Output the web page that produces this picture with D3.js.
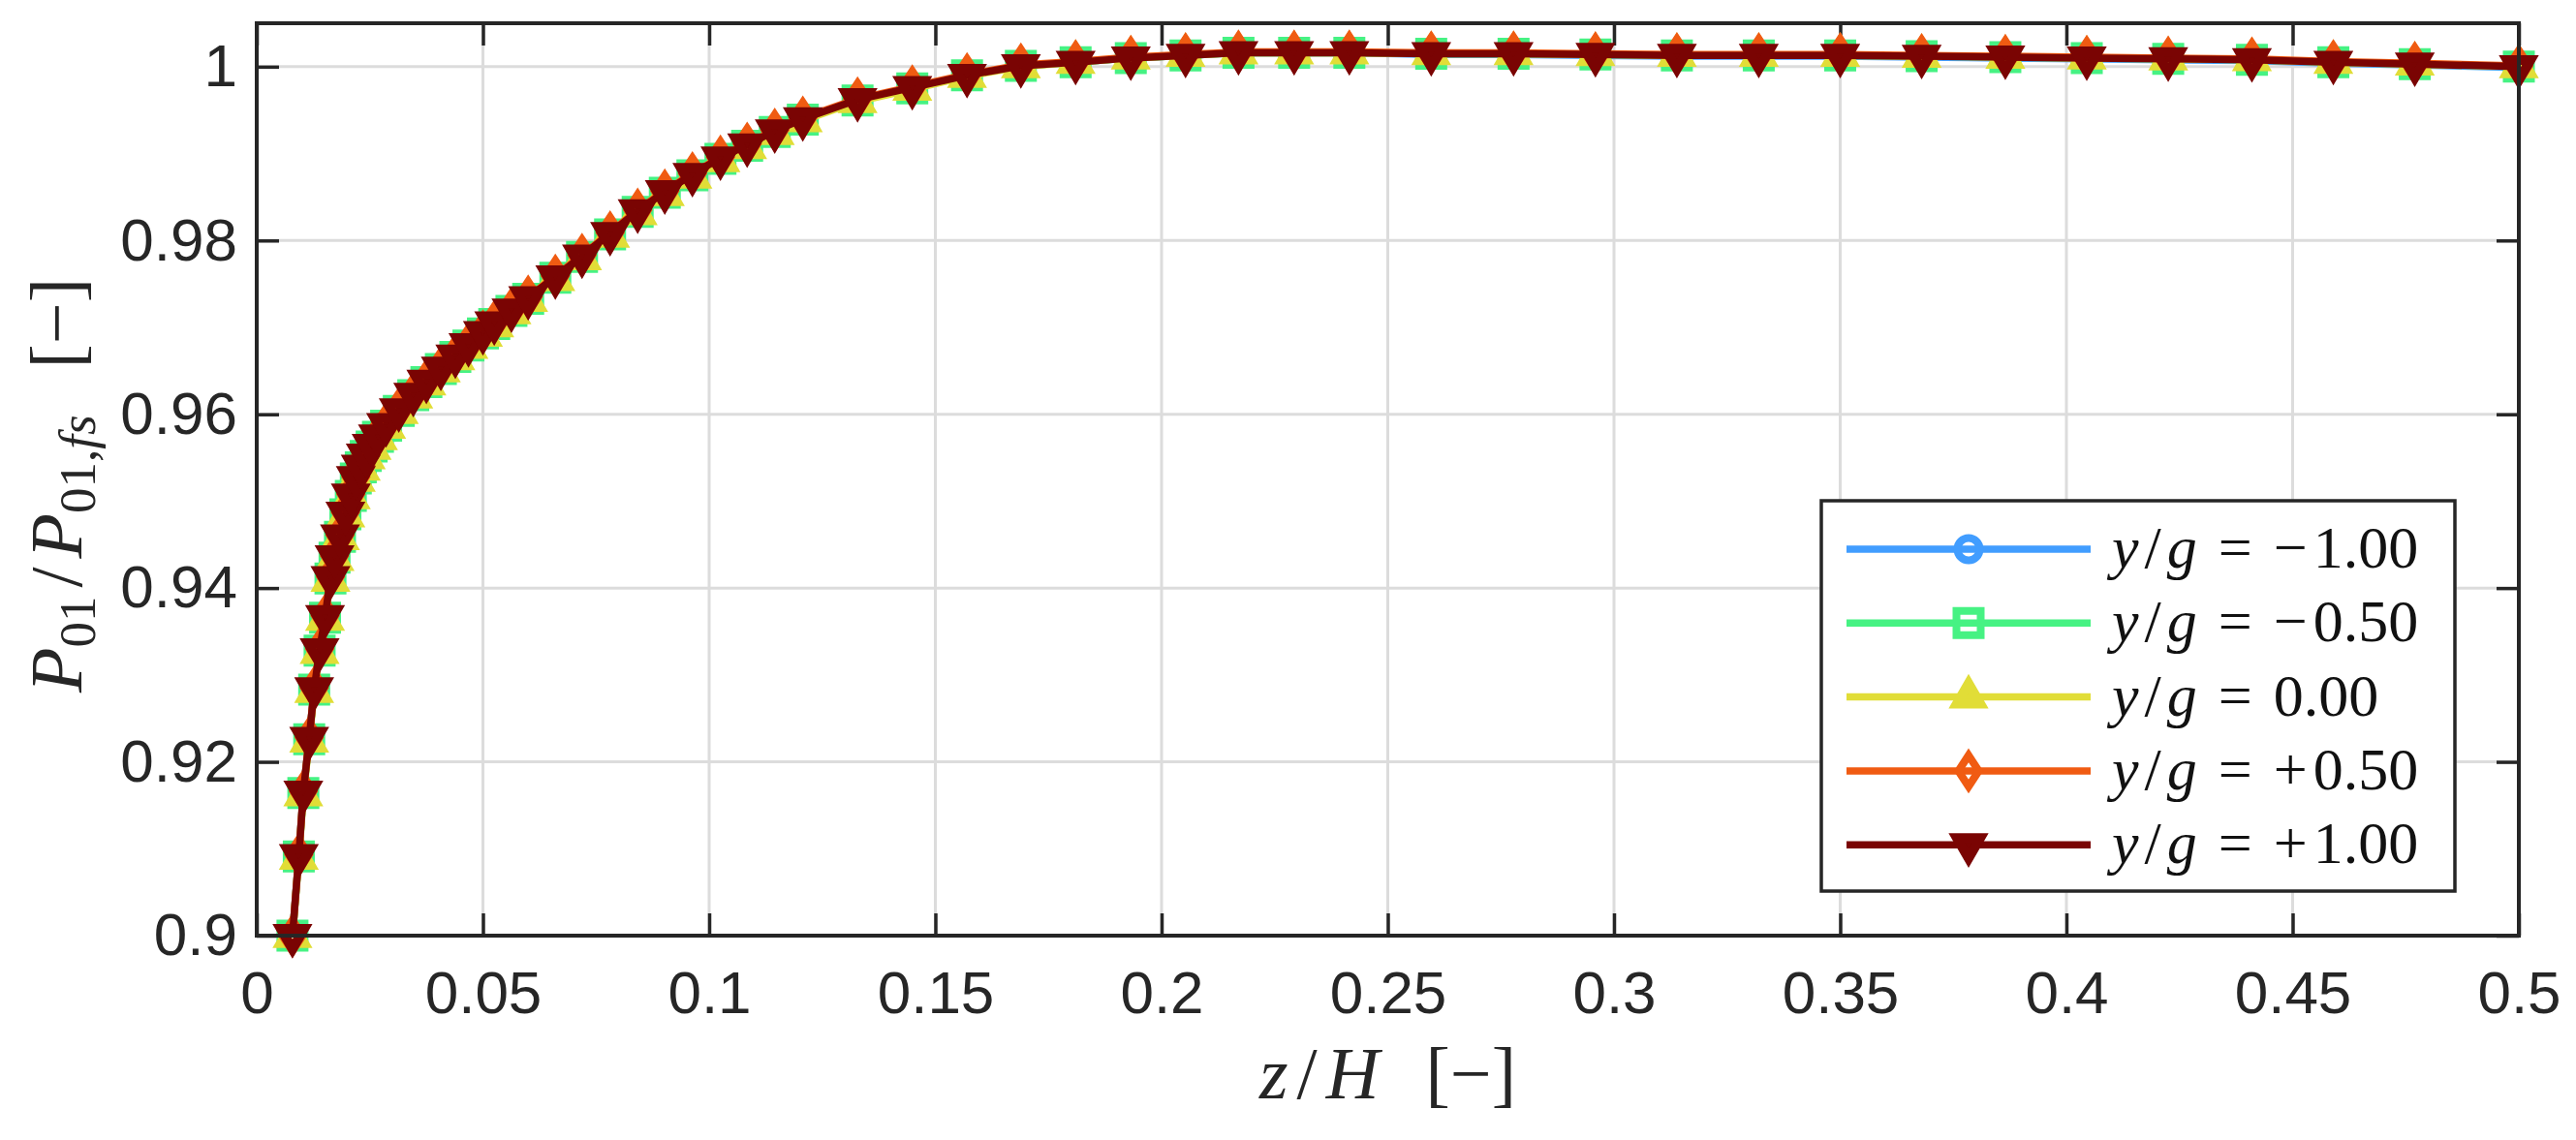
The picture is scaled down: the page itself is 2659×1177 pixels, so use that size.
<!DOCTYPE html>
<html>
<head>
<meta charset="utf-8">
<script src="https://cdn.jsdelivr.net/npm/d3@7"></script>
<style>
  html, body { margin: 0; padding: 0; background: #ffffff; }
  svg { display: block; }
</style>
</head>
<body>
<script>
// ---------------- DATA ----------------
const zH = [
  0.0079,0.0093,0.0103,0.0116,0.0127,0.0139,0.0151,0.0163,0.0172,0.0184,
  0.0196,0.0208,0.0219,0.0230,0.0241,0.0254,0.0268,0.0286,0.0314,0.0346,
  0.0375,0.0407,0.0439,0.0468,0.0500,0.0525,0.0563,0.0600,0.0660,0.0719,
  0.0781,0.0842,0.0902,0.0963,0.1025,0.1084,0.1145,0.1207,0.1328,0.1449,
  0.1570,0.1689,0.1810,0.1932,0.2053,0.2170,0.2293,0.2415,0.2596,0.2778,
  0.2959,0.3139,0.3320,0.3500,0.3680,0.3865,0.4045,0.4225,0.4410,0.4590,
  0.4770,0.5000
];
const pM100 = [
  0.9000,0.9092,0.9165,0.9227,0.9284,0.9329,0.9367,0.9412,0.9436,0.9460,
  0.9486,0.9507,0.9527,0.9540,0.9553,0.9564,0.9575,0.9588,0.9605,0.9623,
  0.9638,0.9653,0.9667,0.9680,0.9694,0.9705,0.9720,0.9734,0.9758,0.9782,
  0.9808,0.9834,0.9856,0.9876,0.9895,0.9910,0.9926,0.9940,0.9962,0.9976,
  0.9990,1.0001,1.0005,1.0010,1.0013,1.0016,1.0016,1.0016,1.0014,1.0014,
  1.0013,1.0012,1.0012,1.0012,1.0011,1.0010,1.0009,1.0008,1.0007,1.0004,
  1.0002,0.9999
];
const pM050 = [
  0.9000,0.9091,0.9164,0.9226,0.9283,0.9328,0.9366,0.9411,0.9435,0.9459,
  0.9485,0.9506,0.9526,0.9539,0.9552,0.9563,0.9574,0.9587,0.9604,0.9622,
  0.9637,0.9652,0.9666,0.9679,0.9693,0.9704,0.9719,0.9733,0.9757,0.9781,
  0.9807,0.9833,0.9855,0.9875,0.9894,0.9909,0.9925,0.9939,0.9961,0.9975,
  0.9990,1.0001,1.0005,1.0010,1.0013,1.0016,1.0016,1.0016,1.0015,1.0015,
  1.0014,1.0013,1.0013,1.0013,1.0012,1.0011,1.0010,1.0009,1.0008,1.0005,
  1.0003,1.0000
];
const p000 = [
  0.8999,0.9089,0.9162,0.9224,0.9281,0.9326,0.9364,0.9409,0.9433,0.9457,
  0.9483,0.9504,0.9524,0.9537,0.9550,0.9561,0.9572,0.9585,0.9602,0.9620,
  0.9635,0.9650,0.9664,0.9677,0.9691,0.9702,0.9717,0.9731,0.9755,0.9779,
  0.9805,0.9831,0.9853,0.9873,0.9892,0.9907,0.9923,0.9938,0.9960,0.9974,
  0.9989,1.0000,1.0005,1.0010,1.0013,1.0016,1.0016,1.0016,1.0015,1.0015,
  1.0014,1.0013,1.0013,1.0013,1.0012,1.0011,1.0010,1.0009,1.0008,1.0005,
  1.0003,1.0000
];
const pP050 = [
  0.9000,0.9093,0.9166,0.9228,0.9285,0.9330,0.9368,0.9413,0.9437,0.9461,
  0.9487,0.9508,0.9528,0.9541,0.9554,0.9565,0.9576,0.9589,0.9606,0.9624,
  0.9639,0.9654,0.9668,0.9681,0.9695,0.9706,0.9721,0.9735,0.9759,0.9783,
  0.9809,0.9835,0.9857,0.9877,0.9896,0.9911,0.9927,0.9941,0.9963,0.9977,
  0.9991,1.0002,1.0006,1.0011,1.0014,1.0017,1.0017,1.0017,1.0016,1.0016,
  1.0015,1.0014,1.0014,1.0014,1.0013,1.0012,1.0011,1.0010,1.0009,1.0006,
  1.0004,1.0001
];
const pP100 = [
  0.9000,0.9092,0.9165,0.9227,0.9284,0.9329,0.9367,0.9412,0.9436,0.9460,
  0.9486,0.9507,0.9527,0.9540,0.9553,0.9564,0.9575,0.9588,0.9605,0.9623,
  0.9638,0.9653,0.9667,0.9680,0.9694,0.9705,0.9720,0.9734,0.9758,0.9782,
  0.9808,0.9834,0.9856,0.9876,0.9895,0.9910,0.9926,0.9940,0.9962,0.9976,
  0.9990,1.0001,1.0005,1.0010,1.0013,1.0016,1.0016,1.0016,1.0015,1.0015,
  1.0014,1.0013,1.0013,1.0013,1.0012,1.0011,1.0010,1.0009,1.0008,1.0005,
  1.0003,1.0000
];

const seriesSigns   = ["\u2212", "\u2212", "", "+", "+"];
const seriesLabels  = ["1.00", "0.50", "0.00", "0.50", "1.00"];
const seriesValues  = [pM100, pM050, p000, pP050, pP100];
const seriesColors  = ["#419dff", "#46f283", "#e1dd37", "#f05b12", "#7a0403"];
const seriesMarkers = ["circle", "square", "triangleUp", "diamond", "triangleDown"];

const xTicks      = [0, 0.05, 0.1, 0.15, 0.2, 0.25, 0.3, 0.35, 0.4, 0.45, 0.5];
const xTickLabels = ["0", "0.05", "0.1", "0.15", "0.2", "0.25", "0.3", "0.35", "0.4", "0.45", "0.5"];
const yTicks      = [0.9, 0.92, 0.94, 0.96, 0.98, 1.0];
const yTickLabels = ["0.9", "0.92", "0.94", "0.96", "0.98", "1"];

// ---------------- LAYOUT ----------------
const W = 2659, H = 1177;
const L = 265, R = 2600, T = 24, B = 966;
const axisColor = "#262626";
const tickFont = "'Liberation Sans', Arial, Helvetica, sans-serif";
const mathFont = "'Liberation Serif', 'Times New Roman', serif";

const svg = d3.select("body").append("svg")
  .attr("width", W).attr("height", H)
  .style("background", "#ffffff");

const x = d3.scaleLinear().domain([0, 0.5]).range([L, R]);
const y = d3.scaleLinear().domain([0.9, 1.005]).range([B, T]);

// grid
const grid = svg.append("g");
grid.selectAll("line.gx").data(xTicks).enter().append("line")
  .attr("x1", d => x(d)).attr("x2", d => x(d)).attr("y1", T).attr("y2", B)
  .attr("stroke", "#dcdcdc").attr("stroke-width", 3);
grid.selectAll("line.gy").data(yTicks).enter().append("line")
  .attr("x1", L).attr("x2", R).attr("y1", d => y(d)).attr("y2", d => y(d))
  .attr("stroke", "#dcdcdc").attr("stroke-width", 3);

// axes
const tickLen = 23;
function styleAxis(g, showLabels) {
  g.select(".domain").remove();
  g.selectAll(".tick line").attr("stroke", axisColor).attr("stroke-width", 3.5);
  g.selectAll(".tick text")
    .attr("fill", axisColor)
    .style("font-family", tickFont)
    .style("font-size", "62px");
  if (!showLabels) g.selectAll(".tick text").remove();
}
const xAxisB = d3.axisBottom(x).tickValues(xTicks)
  .tickFormat((d, i) => xTickLabels[i]).tickSizeInner(-tickLen).tickSizeOuter(0).tickPadding(36);
const xAxisT = d3.axisTop(x).tickValues(xTicks).tickFormat("").tickSizeInner(-tickLen).tickSizeOuter(0);
const yAxisL = d3.axisLeft(y).tickValues(yTicks)
  .tickFormat((d, i) => yTickLabels[i]).tickSizeInner(-tickLen).tickSizeOuter(0).tickPadding(20);
const yAxisR = d3.axisRight(y).tickValues(yTicks).tickFormat("").tickSizeInner(-tickLen).tickSizeOuter(0);

svg.append("g").attr("transform", `translate(0,${B})`).call(xAxisB).call(g => styleAxis(g, true));
svg.append("g").attr("transform", `translate(0,${T})`).call(xAxisT).call(g => styleAxis(g, false));
svg.append("g").attr("transform", `translate(${L},0)`).call(yAxisL).call(g => styleAxis(g, true));
svg.append("g").attr("transform", `translate(${R},0)`).call(yAxisR).call(g => styleAxis(g, false));

// markers
function markerPath(type) {
  switch (type) {
    case "circle": return d3.symbol(d3.symbolCircle, Math.PI * 11.5 * 11.5)();
    case "square": return d3.symbol(d3.symbolSquare, 25 * 25)();
    case "triangleUp":
    case "triangleDown": return d3.symbol(d3.symbolTriangle, 24 * 24 * Math.sqrt(3) / 4)();
    case "diamond": return "M0,-16L10.5,0L0,16L-10.5,0Z";
  }
}
function markerStroke(type) {
  return (type === "triangleUp" || type === "triangleDown") ? 10 : 8;
}
function markerRot(type) { return type === "triangleDown" ? " rotate(180)" : ""; }

// series
const plot = svg.append("g");
const lineGen = d3.line().x(d => x(d[0])).y(d => y(d[1]));
seriesValues.forEach((vals, si) => {
  const pts = zH.map((z, i) => [z, vals[i]]);
  const g = plot.append("g");
  g.append("path").datum(pts)
    .attr("d", lineGen)
    .attr("fill", "none")
    .attr("stroke", seriesColors[si])
    .attr("stroke-width", 7.5)
    .attr("stroke-linejoin", "round");
  g.selectAll("path.m").data(pts).enter().append("path")
    .attr("d", markerPath(seriesMarkers[si]))
    .attr("transform", d => `translate(${x(d[0])},${y(d[1])})` + markerRot(seriesMarkers[si]))
    .attr("fill", "none")
    .attr("stroke", seriesColors[si])
    .attr("stroke-width", markerStroke(seriesMarkers[si]))
    .attr("stroke-linejoin", "miter");
});

// axis box
svg.append("rect").attr("x", L).attr("y", T).attr("width", R - L).attr("height", B - T)
  .attr("fill", "none").attr("stroke", axisColor).attr("stroke-width", 4);

// axis labels
const xl = svg.append("text")
  .attr("x", (L + R) / 2).attr("y", 1134)
  .attr("text-anchor", "middle")
  .style("font-family", mathFont).style("font-size", "76px").attr("fill", axisColor);
xl.append("tspan").style("font-style", "italic").text("z");
xl.append("tspan").attr("dx", 9).text("/");
xl.append("tspan").attr("dx", 9).style("font-style", "italic").text("H");
xl.append("tspan").attr("dx", 48).text("[\u2212]");

const yl = svg.append("text")
  .attr("transform", `translate(84,${(T + B) / 2 + 6}) rotate(-90)`)
  .attr("text-anchor", "middle")
  .style("font-family", mathFont).style("font-size", "76px").attr("fill", axisColor);
yl.append("tspan").style("font-style", "italic").text("P");
yl.append("tspan").attr("dy", 14).style("font-size", "53px").text("01");
yl.append("tspan").attr("dy", -14).attr("dx", 9).text("/");
yl.append("tspan").attr("dx", 9).style("font-style", "italic").text("P");
yl.append("tspan").attr("dy", 14).style("font-size", "53px").text("01,");
yl.append("tspan").style("font-size", "53px").style("font-style", "italic").text("fs");
yl.append("tspan").attr("dy", -14).attr("dx", 48).text("[\u2212]");

// legend
const lg = svg.append("g");
lg.append("rect").attr("x", 1880).attr("y", 517).attr("width", 2534 - 1880).attr("height", 920 - 517)
  .attr("fill", "#ffffff").attr("stroke", axisColor).attr("stroke-width", 3.5);
const rowY0 = 567, rowDY = 76.3;
seriesLabels.forEach((lab, si) => {
  const ry = rowY0 + si * rowDY;
  lg.append("line").attr("x1", 1906).attr("x2", 2158).attr("y1", ry).attr("y2", ry)
    .attr("stroke", seriesColors[si]).attr("stroke-width", 7.5);
  lg.append("path").attr("d", markerPath(seriesMarkers[si]))
    .attr("transform", `translate(2032,${ry})` + markerRot(seriesMarkers[si]))
    .attr("fill", "none").attr("stroke", seriesColors[si])
    .attr("stroke-width", markerStroke(seriesMarkers[si]));
  const t = lg.append("text").attr("x", 2180).attr("y", ry + 19)
    .style("font-family", mathFont).style("font-size", "62px").attr("fill", "#111111");
  t.append("tspan").style("font-style", "italic").text("y");
  t.append("tspan").attr("dx", 6).text("/");
  t.append("tspan").attr("dx", 6).style("font-style", "italic").text("g");
  t.append("tspan").attr("dx", 22).text("=");
  if (seriesSigns[si]) {
    t.append("tspan").attr("dx", 22).text(seriesSigns[si]);
    t.append("tspan").attr("dx", 6).text(lab);
  } else {
    t.append("tspan").attr("dx", 22).text(lab);
  }
});
</script>
</body>
</html>
